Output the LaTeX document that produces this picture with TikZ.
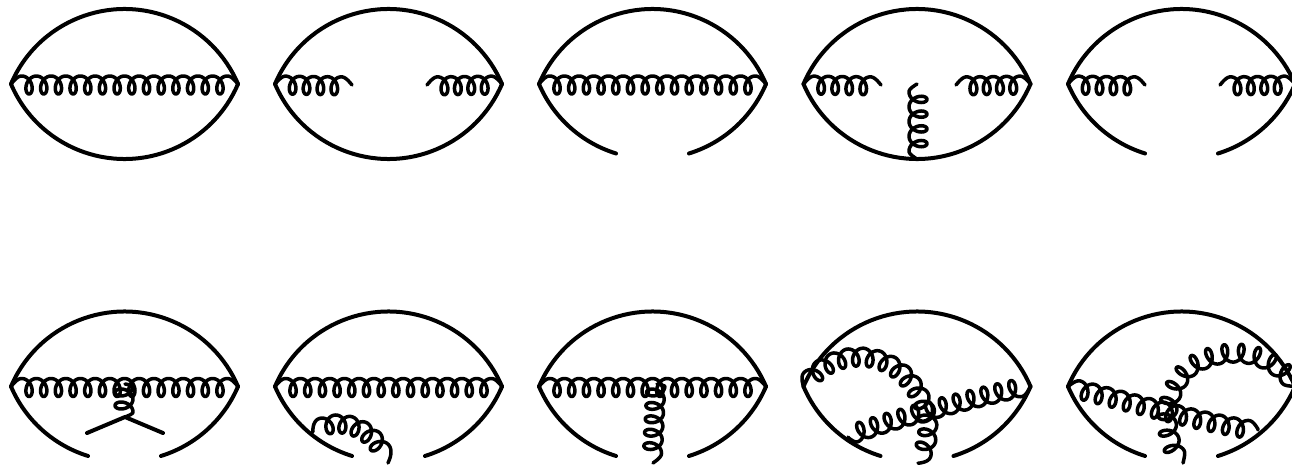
\documentclass[tikz,border=0pt]{standalone}
\usetikzlibrary{decorations}
\def\gms{10.7}\def\gme{10.7}\def\gn{0}
\pgfdeclaredecoration{gcoil}{go}{
  \state{go}[width=0.5pt]{
    \pgfmathsetmacro\gS{\pgfdecoratedcompleteddistance}
    \pgfmathsetmacro\gL{\pgfdecoratedpathlength}
    \pgfmathsetmacro\gN{\gn>0 ? \gn : max(1,round((\gL-\gms-\gme)/14.6))}
    \pgfmathsetmacro\gSeg{(\gL-\gms-\gme)/\gN}
    \pgfmathsetmacro\gTail{\gS<\gms ? 1 : (\gS>\gL-\gme ? 2 : 0)}
    \pgfmathsetmacro\gdx{\gTail>0 ? 0 : 6.4*sin((\gS-\gms)/\gSeg*360)}
    \pgfmathsetmacro\gdy{\gTail==1 ? 8*sin(\gS/\gms*90) : (\gTail==2 ? 8*sin((\gL-\gS)/\gme*90) : -1+9*cos((\gS-\gms)/\gSeg*360))}
    \pgfpathlineto{\pgfqpoint{\gdx pt}{\gdy pt}}
  }
  \state{final}{\pgfpathlineto{\pgfpointdecoratedpathlast}}
}
\tikzset{
  quark/.style={line width=4pt,line cap=round,line join=round},
  gms/.code={\def\gms{#1}},gme/.code={\def\gme{#1}},gn/.code={\def\gn{#1}},
  gluon/.style={line width=3.5pt,line cap=round,line join=round,decorate,decoration={gcoil}}
}
\newcommand{\lenstop}[3]{%
  \coordinate (L#1) at (#2,#3);
  \coordinate (R#1) at ({#2+227},#3);
  \draw[quark] (L#1) arc[start angle=156.9,end angle=23.1,radius=123.4pt];
}
\newcommand{\lensclosed}[3]{%
  \lenstop{#1}{#2}{#3}
  \draw[quark] (L#1) arc[start angle=203.1,end angle=336.9,radius=123.4pt];
}
\newcommand{\lensopen}[3]{%
  \lenstop{#1}{#2}{#3}
  \draw[quark] (L#1) arc[start angle=203.1,end angle=252.8,radius=123.4pt];
  \draw[quark] (R#1) arc[start angle=336.9,end angle=287.2,radius=123.4pt];
}
\begin{document}
\begin{tikzpicture}[x=1pt,y=-1pt]
\useasboundingbox (0,0) rectangle (1292,468);
\clip (0,0) rectangle (1292,468);
% row 1
\lensclosed{a}{11}{84}
\draw[gluon] (La) -- (Ra);
\lensclosed{b}{275}{84}
\coordinate (b1) at (352,85); \coordinate (b2) at (427,85);
\draw[gluon] (Lb) -- (b1);
\draw[gluon] (b2) -- (Rb);
\lensopen{c}{539}{84}
\draw[gluon] (Lc) -- (Rc);
\lensclosed{d}{803.5}{84}
\coordinate (d1) at (881,85); \coordinate (d2) at (956,85);
\coordinate (d3) at (917,159); \coordinate (d4) at (917,84);
\draw[gluon] (Ld) -- (d1);
\draw[gluon] (d2) -- (Rd);
\draw[gluon,gms=8,gme=8,gn=4] (d3) -- (d4);
\lensopen{e}{1068}{84}
\coordinate (e1) at (1145,85); \coordinate (e2) at (1220,85);
\draw[gluon] (Le) -- (e1);
\draw[gluon] (e2) -- (Re);
% row 2
\lensopen{f}{11}{386.5}
\coordinate (f1) at (125,384); \coordinate (f2) at (125,417);
\coordinate (f3) at (87,433); \coordinate (f4) at (163,433);
\draw[gluon] (Lf) -- (Rf);
\draw[gluon,gms=2,gme=5,gn=2] (f1) -- (f2);
\draw[quark] (f3) -- (f2) -- (f4);
\lensopen{g}{275}{386.5}
\coordinate (g1) at (313,432); \coordinate (g2) at (388,463);
\draw[gluon] (Lg) -- (Rg);
\draw[gluon,gn=5,gme=14] (g1) .. controls (330,415) and (375,420) .. (g2);
\lensopen{h}{539}{386.5}
\coordinate (h1) at (657,384); \coordinate (h2) at (653,463);
\draw[gluon] (Lh) -- (Rh);
\draw[gluon,gms=2,gme=10,gn=5] (h1) -- (h2);
\lensopen{i}{803.5}{386.5}
\coordinate (i1) at (905,375); \coordinate (i2) at (918,463); \coordinate (i3) at (848,437);
\draw[gluon,gn=13] (Li) .. controls (825,352) and (875,345) .. (i1) .. controls (925,395) and (940,430) .. (i2);
\draw[gluon,gme=8] (Ri) .. controls (990,395) and (890,420) .. (i3);
\lensopen{j}{1068}{386.5}
\coordinate (j1) at (1258,430); \coordinate (j2) at (1190,368); \coordinate (j3) at (1183,463);
\draw[gluon,gn=12] (Lj) .. controls (1110,395) and (1190,420) .. (j1);
\draw[gluon,gn=13] (Rj) .. controls (1270,350) and (1225,345) .. (j2) .. controls (1165,390) and (1160,435) .. (j3);
\end{tikzpicture}
\end{document}
